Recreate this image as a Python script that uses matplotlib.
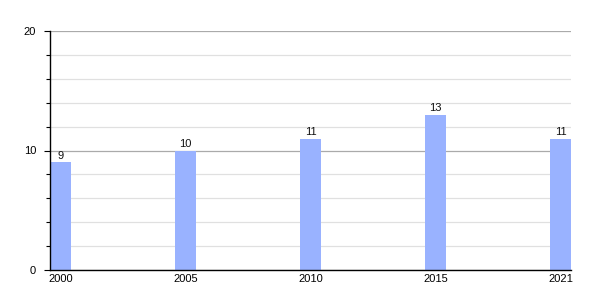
import matplotlib
matplotlib.use("Agg")
import matplotlib.pyplot as plt
from matplotlib.ticker import MultipleLocator

years = ["2000", "2005", "2010", "2015", "2021"]
values = [9, 10, 11, 13, 11]

plt.rcParams['font.family'] = ['Liberation Sans', 'DejaVu Sans']

fig = plt.figure(figsize=(6, 3), dpi=100)
ax = fig.add_axes([50/600, 30/300, 521/600, 239/300])

w = 0.168
x = list(range(len(years)))
ax.bar(x, values, width=w, color='#99b2ff', zorder=3)
for xi, v in zip(x, values):
    ax.text(xi, v + 0.15, str(v), ha='center', va='bottom', fontsize=8, color='#111111', zorder=4)

ax.set_xlim(-w/2, len(years) - 1 + w/2)
ax.set_ylim(0, 20)
ax.set_xticks(x)
ax.set_xticklabels(years, fontsize=8)
ax.yaxis.set_major_locator(MultipleLocator(10))
ax.yaxis.set_minor_locator(MultipleLocator(2))
ax.tick_params(axis='y', which='major', length=4, width=0.8, labelsize=8, pad=6)
ax.tick_params(axis='y', which='minor', length=3, width=0.8)
ax.tick_params(axis='x', length=0, pad=3, labelsize=8)

ax.grid(axis='y', which='major', color='#aaaaaa', linewidth=0.9, zorder=1)
ax.grid(axis='y', which='minor', color='#e0e0e0', linewidth=0.9, zorder=1)
ax.set_axisbelow(True)

for s in ['top', 'right']:
    ax.spines[s].set_visible(False)
ax.spines['left'].set_linewidth(1.0)
ax.spines['bottom'].set_linewidth(1.0)
ax.spines['left'].set_zorder(5)
ax.spines['bottom'].set_zorder(5)

fig.savefig("out.png", dpi=100)
